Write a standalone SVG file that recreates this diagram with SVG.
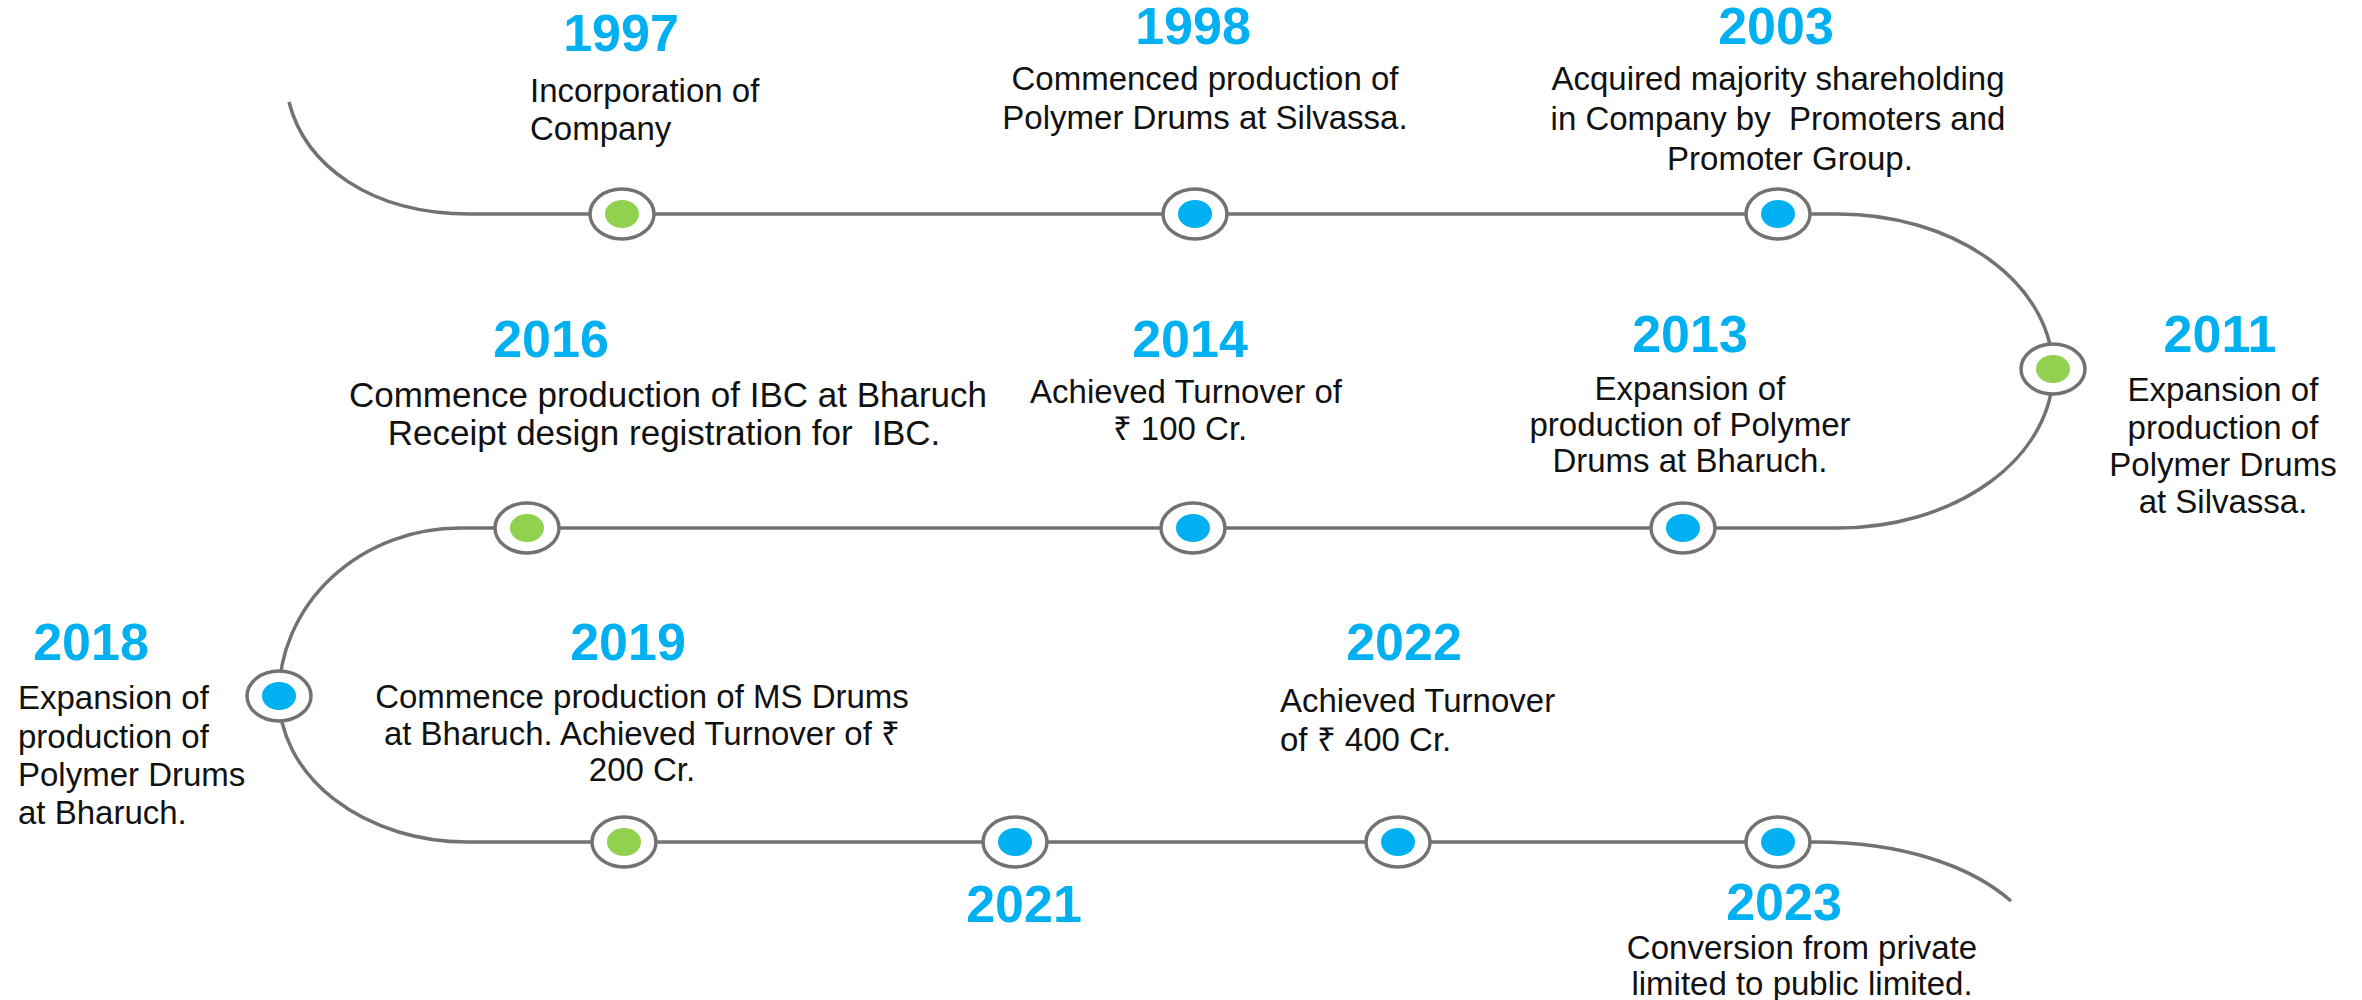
<svg xmlns="http://www.w3.org/2000/svg" width="2362" height="1000" viewBox="0 0 2362 1000">
<style>
.line{fill:none;stroke:#767171;stroke-width:3.5}
.ring{fill:#fff;stroke:#767171;stroke-width:3.5}
.blue{fill:#00B0F0}
.green{fill:#92D050}
.yr{font-family:"Liberation Sans",Arial,sans-serif;font-weight:bold;font-size:52px;fill:#00B0F0;text-anchor:middle}
.d{font-family:"Liberation Sans",Arial,sans-serif;font-size:33px;fill:#111;white-space:pre}
.c{text-anchor:middle}
.w{font-size:35px}
</style>
<rect width="2362" height="1000" fill="#fff"/>
<g id="connectors">
<path class="line" d="M289,102 C305,165 370,214 470,214 L1838,214 A215,157 0 0 1 2053,371 A215,157 0 0 1 1838,528 L460,528 A181,168 0 0 0 279,696 A188,146 0 0 0 467,842 L1815,842 C1900,842 1970,865 2011,901"/>
</g>
<g id="n1997"><ellipse class="ring" cx="622" cy="214" rx="32" ry="25"/><ellipse class="green" cx="622" cy="214" rx="17" ry="14"/>
<text class="yr" x="621" y="51">1997</text>
<text class="d" x="530" y="102">Incorporation of</text><text class="d" x="530" y="140">Company</text></g>
<g id="n1998"><ellipse class="ring" cx="1195" cy="214" rx="32" ry="25"/><ellipse class="blue" cx="1195" cy="214" rx="17" ry="14"/>
<text class="yr" x="1193" y="44">1998</text>
<text class="d c" x="1205" y="90">Commenced production of</text><text class="d c" x="1205" y="129">Polymer Drums at Silvassa.</text></g>
<g id="n2003"><ellipse class="ring" cx="1778" cy="214" rx="32" ry="25"/><ellipse class="blue" cx="1778" cy="214" rx="17" ry="14"/>
<text class="yr" x="1776" y="44">2003</text>
<text class="d c" x="1778" y="90">Acquired majority shareholding</text><text class="d c" x="1778" y="130">in Company by  Promoters and</text><text class="d c" x="1790" y="170">Promoter Group.</text></g>
<g id="n2011"><ellipse class="ring" cx="2053" cy="369" rx="32" ry="25"/><ellipse class="green" cx="2053" cy="369" rx="17" ry="14"/>
<text class="yr" x="2220" y="352">2011</text>
<text class="d c" x="2223" y="401">Expansion of</text><text class="d c" x="2223" y="439">production of</text><text class="d c" x="2223" y="476">Polymer Drums</text><text class="d c" x="2223" y="513">at Silvassa.</text></g>
<g id="n2013"><ellipse class="ring" cx="1683" cy="528" rx="32" ry="25"/><ellipse class="blue" cx="1683" cy="528" rx="17" ry="14"/>
<text class="yr" x="1690" y="352">2013</text>
<text class="d c" x="1690" y="400">Expansion of</text><text class="d c" x="1690" y="436">production of Polymer</text><text class="d c" x="1690" y="472">Drums at Bharuch.</text></g>
<g id="n2014"><ellipse class="ring" cx="1193" cy="528" rx="32" ry="25"/><ellipse class="blue" cx="1193" cy="528" rx="17" ry="14"/>
<text class="yr" x="1190" y="357">2014</text>
<text class="d c" x="1186" y="403">Achieved Turnover of</text><text class="d c" x="1180" y="440">₹ 100 Cr.</text></g>
<g id="n2016"><ellipse class="ring" cx="527" cy="528" rx="32" ry="25"/><ellipse class="green" cx="527" cy="528" rx="17" ry="14"/>
<text class="yr" x="551" y="357">2016</text>
<text class="d c w" x="668" y="407">Commence production of IBC at Bharuch</text><text class="d c w" x="664" y="445">Receipt design registration for  IBC.</text></g>
<g id="n2018"><ellipse class="ring" cx="279" cy="696" rx="32" ry="25"/><ellipse class="blue" cx="279" cy="696" rx="17" ry="14"/>
<text class="yr" x="91" y="660">2018</text>
<text class="d" x="18" y="709">Expansion of</text><text class="d" x="18" y="748">production of</text><text class="d" x="18" y="786">Polymer Drums</text><text class="d" x="18" y="824">at Bharuch.</text></g>
<g id="n2019"><ellipse class="ring" cx="624" cy="842" rx="32" ry="25"/><ellipse class="green" cx="624" cy="842" rx="17" ry="14"/>
<text class="yr" x="628" y="660">2019</text>
<text class="d c" x="642" y="708">Commence production of MS Drums</text><text class="d c" x="642" y="745">at Bharuch. Achieved Turnover of ₹</text><text class="d c" x="642" y="781">200 Cr.</text></g>
<g id="n2021"><ellipse class="ring" cx="1015" cy="842" rx="32" ry="25"/><ellipse class="blue" cx="1015" cy="842" rx="17" ry="14"/>
<text class="yr" x="1024" y="922">2021</text></g>
<g id="n2022"><ellipse class="ring" cx="1398" cy="842" rx="32" ry="25"/><ellipse class="blue" cx="1398" cy="842" rx="17" ry="14"/>
<text class="yr" x="1404" y="660">2022</text>
<text class="d" x="1280" y="712">Achieved Turnover</text><text class="d" x="1280" y="751">of ₹ 400 Cr.</text></g>
<g id="n2023"><ellipse class="ring" cx="1778" cy="842" rx="32" ry="25"/><ellipse class="blue" cx="1778" cy="842" rx="17" ry="14"/>
<text class="yr" x="1784" y="920">2023</text>
<text class="d c" x="1802" y="959">Conversion from private</text><text class="d c" x="1802" y="995">limited to public limited.</text></g>
</svg>
